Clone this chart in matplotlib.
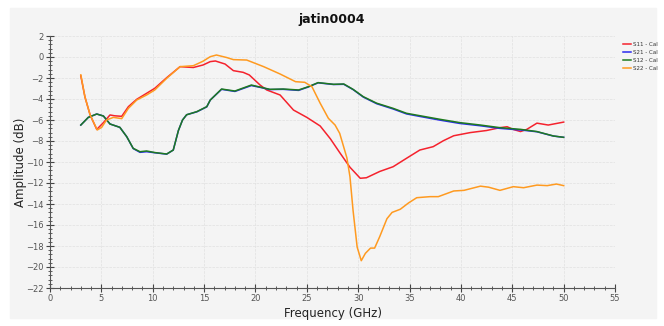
import matplotlib.pyplot as plt
from matplotlib.patches import Rectangle
from matplotlib.ticker import MultipleLocator

# S11 - Cal (red)
s11_freq = [3.0, 3.4, 3.9, 4.55, 5.2, 5.84, 6.3, 6.98, 7.63, 8.44, 9.4, 10.2, 11.36, 12.66,
            13.95, 14.9, 15.6, 16.1, 17.04, 17.85, 18.8, 19.4, 20.45, 21.1, 22.4, 23.7, 25.0,
            26.3, 27.3, 28.2, 29.2, 30.2, 30.8, 32.1, 33.4, 34.7, 36.0, 37.3, 38.3, 39.3, 40.9,
            42.5, 43.8, 44.5, 45.1, 45.8, 46.4, 47.4, 48.5, 50.0]
s11_db = [-1.8, -3.8, -5.5, -6.9, -6.25, -5.52, -5.6, -5.65, -4.73, -4.03, -3.46, -2.98, -1.97,
          -0.92, -1.0, -0.76, -0.44, -0.38, -0.67, -1.3, -1.46, -1.71, -2.67, -3.14, -3.62, -5.05,
          -5.75, -6.57, -7.8, -9.1, -10.5, -11.55, -11.5, -10.9, -10.45, -9.65, -8.86, -8.54,
          -7.97, -7.5, -7.2, -7.0, -6.73, -6.64, -6.9, -7.1, -6.9, -6.3, -6.48, -6.2]

# S12 - Cal (green)
s12_freq = [3.0, 3.73, 4.55, 5.2, 5.84, 6.8, 7.47, 8.1, 8.76, 9.4, 10.2, 11.36, 12.0, 12.5,
            12.9, 13.3, 14.3, 15.26, 15.6, 16.7, 18.0, 19.6, 20.6, 21.4, 22.7, 24.2, 25.15, 26.1,
            27.6, 28.6, 29.5, 30.5, 31.8, 33.4, 34.7, 36.0, 38.0, 39.9, 41.9, 43.8, 45.8, 47.4,
            49.0, 50.0]
s12_db = [-6.48, -5.75, -5.43, -5.62, -6.38, -6.7, -7.59, -8.7, -9.02, -8.95, -9.1, -9.24, -8.86,
          -7.0, -6.0, -5.5, -5.2, -4.73, -4.1, -3.05, -3.24, -2.67, -2.9, -3.08, -3.05, -3.14,
          -2.83, -2.44, -2.6, -2.57, -3.08, -3.78, -4.4, -4.89, -5.36, -5.59, -5.94, -6.25,
          -6.48, -6.73, -6.89, -7.1, -7.52, -7.65]

# S21 - Cal (blue), almost the same as S12
s21_freq = s12_freq
s21_db = [-6.48, -5.75, -5.43, -5.62, -6.38, -6.7, -7.59, -8.72, -9.08, -9.02, -9.12, -9.25,
          -8.86, -7.0, -6.0, -5.5, -5.22, -4.75, -4.1, -3.08, -3.28, -2.72, -2.92, -3.1, -3.08,
          -3.18, -2.85, -2.46, -2.62, -2.6, -3.1, -3.82, -4.45, -4.95, -5.42, -5.66, -6.02,
          -6.33, -6.55, -6.8, -6.95, -7.12, -7.53, -7.65]

# S22 - Cal (orange)
s22_freq = [3.0, 3.4, 3.9, 4.6, 5.03, 5.5, 6.17, 6.98, 7.63, 8.44, 9.4, 10.2, 11.36, 12.66,
            13.95, 14.9, 15.6, 16.2, 17.2, 17.85, 19.15, 20.8, 22.4, 23.9, 24.8, 25.5, 26.3,
            27.1, 27.75, 28.2, 28.9, 29.2, 29.5, 29.9, 30.3, 30.7, 31.2, 31.6, 32.1, 32.8, 33.3,
            34.1, 34.9, 35.7, 37.0, 37.8, 39.3, 40.3, 41.9, 42.7, 43.8, 45.1, 46.1, 47.4, 48.4,
            49.3, 50.0]
s22_db = [-1.7, -3.8, -5.5, -6.95, -6.7, -6.0, -5.75, -5.87, -4.89, -4.1, -3.62, -3.14, -2.03,
          -0.92, -0.83, -0.4, 0.03, 0.19, -0.05, -0.25, -0.29, -0.92, -1.62, -2.35, -2.41, -2.83,
          -4.4, -5.84, -6.48, -7.27, -9.6, -11.4, -14.6, -18.1, -19.4, -18.7, -18.2, -18.2,
          -17.1, -15.4, -14.8, -14.5, -13.9, -13.4, -13.3, -13.3, -12.76, -12.7, -12.3, -12.4,
          -12.7, -12.35, -12.45, -12.2, -12.25, -12.1, -12.25]

bg = '#f4f4f4'
fig = plt.figure(figsize=(6.64, 3.26), dpi=100, facecolor='white')
fig.patches.append(Rectangle((10 / 664, 8 / 326), 646 / 664, 310 / 326,
                             transform=fig.transFigure, color=bg, zorder=-1))

ax = fig.add_axes([50 / 664, 38 / 326, 565 / 664, 252 / 326])
ax.set_facecolor(bg)

ax.plot(s11_freq, s11_db, color='#f5222d', lw=1.1, label='S11 - Cal')
ax.plot(s21_freq, s21_db, color='#2a2af0', lw=1.1, label='S21 - Cal')
ax.plot(s12_freq, s12_db, color='#1f7a1f', lw=1.1, label='S12 - Cal')
ax.plot(s22_freq, s22_db, color='#ff9a20', lw=1.1, label='S22 - Cal')

ax.set_xlim(0, 55)
ax.set_ylim(-22, 2)
ax.xaxis.set_major_locator(MultipleLocator(5))
ax.xaxis.set_minor_locator(MultipleLocator(1))
ax.yaxis.set_major_locator(MultipleLocator(2))
ax.yaxis.set_minor_locator(MultipleLocator(0.4))
ax.grid(True, which='major', color='#e0e0e0', linestyle='--', linewidth=0.5)

for side in ['top', 'right']:
    ax.spines[side].set_visible(False)
for side in ['left', 'bottom']:
    ax.spines[side].set_color('#555555')
    ax.spines[side].set_linewidth(0.8)

ax.tick_params(which='major', direction='inout', length=6, width=0.8, color='#444444',
               labelsize=6, labelcolor='#555555', pad=1.5)
ax.tick_params(which='minor', direction='inout', length=3, width=0.6, color='#444444')

ax.set_xlabel('Frequency (GHz)', fontsize=8.5, color='#222222', labelpad=3)
ax.set_ylabel('Amplitude (dB)', fontsize=8.5, color='#222222')
ax.yaxis.set_label_coords(-23 / 565, 0.5)
fig.text(0.5, 1 - 20 / 326, 'jatin0004', ha='center', va='center',
         fontsize=9, fontweight='bold', color='#111111')

fig.legend(loc='upper left', bbox_to_anchor=(620 / 664, 1 - 39 / 326), frameon=False,
           fontsize=4, handlelength=1.5, handletextpad=0.3, labelspacing=0.55,
           borderpad=0, labelcolor='#333333')

fig.savefig('out.png', dpi=100, facecolor='white')
